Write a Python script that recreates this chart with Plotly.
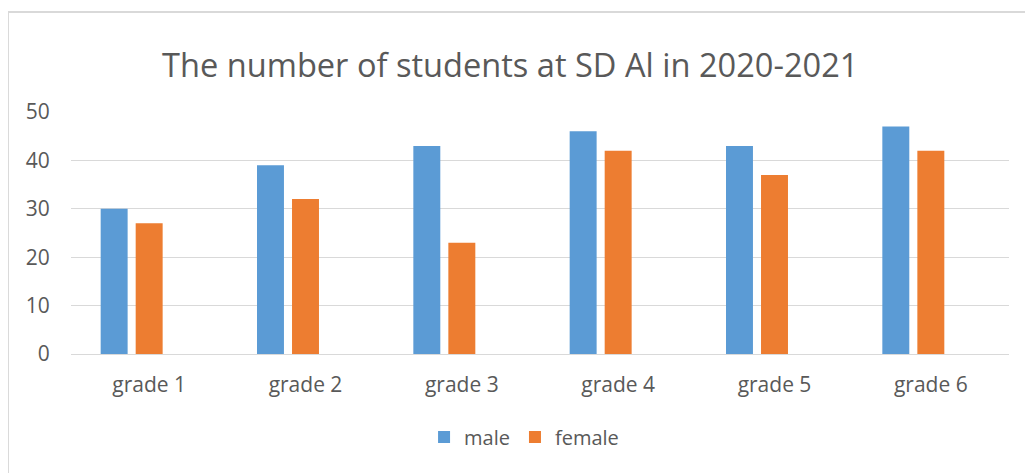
import plotly.graph_objects as go

categories = ["grade 1", "grade 2", "grade 3", "grade 4", "grade 5", "grade 6"]
male = [30, 39, 43, 46, 43, 47]
female = [27, 32, 23, 42, 37, 42]
blank = [None] * 6

FONT = "Open Sans"
TXT = "#595959"

fig = go.Figure()
fig.add_trace(go.Bar(x=categories, y=male, name="male", marker=dict(color="#5B9BD5", line=dict(width=0))))
fig.add_trace(go.Bar(x=categories, y=female, name="female", marker=dict(color="#ED7D31", line=dict(width=0))))
fig.add_trace(go.Bar(x=categories, y=blank, name="", showlegend=False, marker=dict(color="#A5A5A5")))

fig.update_layout(
    width=1025, height=465,
    margin=dict(l=63, r=24, t=104, b=119),
    paper_bgcolor="white", plot_bgcolor="white",
    barmode="group", bargap=0.328, bargroupgap=0.23,
    font=dict(family=FONT, color=TXT, size=20),
    title=dict(text="The number of students at SD Al in 2020-2021", x=0.49, xref="container",
               xanchor="center", y=0.877, yref="container", yanchor="middle",
               font=dict(family=FONT, size=32.6, color=TXT)),
    legend=dict(orientation="h", x=0.483, xanchor="center", y=-0.343, yanchor="middle",
                font=dict(family=FONT, size=20, color=TXT), itemwidth=30, traceorder="normal"),
    showlegend=True,
)
fig.update_xaxes(showgrid=False, showline=True, linecolor="#D9D9D9", linewidth=1,
                 ticks="outside", ticklen=12, tickcolor="rgba(0,0,0,0)",
                 tickfont=dict(family=FONT, size=21, color=TXT))
fig.update_yaxes(range=[0, 50], dtick=10, showgrid=True, gridcolor="#D9D9D9", gridwidth=1,
                 zeroline=False, showline=False,
                 ticks="outside", ticklen=16, tickcolor="rgba(0,0,0,0)",
                 tickfont=dict(family=FONT, size=21, color=TXT))

# chart frame (left and top border)
fig.add_shape(type="line", xref="paper", yref="paper", x0=-0.0672, x1=-0.0672, y0=1.413, y1=-0.6,
              line=dict(color="#D9D9D9", width=2))
fig.add_shape(type="line", xref="paper", yref="paper", x0=-0.0672, x1=1.05, y0=1.413, y1=1.413,
              line=dict(color="#D9D9D9", width=2))

fig.write_html("out.html")
